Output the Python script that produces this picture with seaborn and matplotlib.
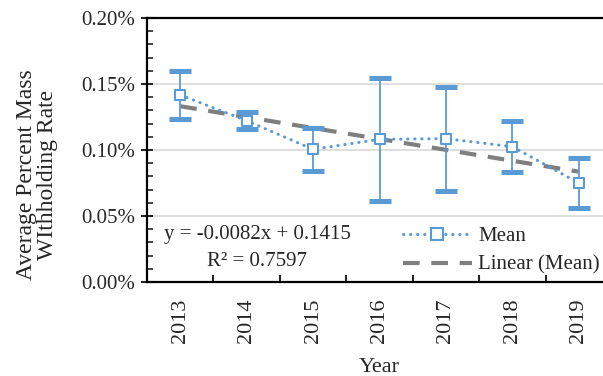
import numpy as np
import pandas as pd
import matplotlib
matplotlib.use("Agg")
import matplotlib.pyplot as plt
from matplotlib.lines import Line2D
from matplotlib.ticker import MultipleLocator, FuncFormatter, FixedLocator
import seaborn as sns

years = ["2013", "2014", "2015", "2016", "2017", "2018", "2019"]
mean_vals = [0.1417, 0.1222, 0.1005, 0.1081, 0.1086, 0.1025, 0.0750]
err_upper = [0.1600, 0.1288, 0.1169, 0.1545, 0.1480, 0.1217, 0.0942]
err_lower = [0.1237, 0.1157, 0.0841, 0.0616, 0.0692, 0.0836, 0.0560]
y_ticks = [0.00, 0.05, 0.10, 0.15, 0.20]
eq_text = "y = -0.0082x + 0.1415"
r2_text = "R² = 0.7597"

sns.set_theme(style="white")
plt.rcParams['font.family'] = ['Liberation Serif', 'DejaVu Serif']

blue = "#5B9BD5"
grey = "#7F7F7F"

df = pd.DataFrame({"pos": np.arange(len(years)), "year": years, "mean": mean_vals,
                   "lo": err_lower, "hi": err_upper})

fig = plt.figure(figsize=(6.03, 3.76), dpi=100)
ax = fig.add_axes([147/603, 94/376, 465/603, 264/376])

for y in y_ticks[1:-1]:
    ax.axhline(y, color="#D9D9D9", lw=1.2, zorder=0)

# error bars
yerr = np.array([df["mean"] - df["lo"], df["hi"] - df["mean"]])
ax.errorbar(df["pos"], df["mean"], yerr=yerr, fmt="none", ecolor=blue,
            elinewidth=1.3, capsize=8, capthick=3.6, zorder=3)

# mean line
sns.lineplot(data=df, x="pos", y="mean", ax=ax, color=blue, lw=2.2,
             linestyle=(0, (0.1, 2.2)), dash_capstyle="round", zorder=4)
sns.scatterplot(data=df, x="pos", y="mean", ax=ax, marker="s", s=60,
                facecolor="white", edgecolor=blue, linewidth=1.5, zorder=5)

# linear trend
sns.regplot(data=df, x="pos", y="mean", ax=ax, scatter=False, ci=None,
            line_kws=dict(color=grey, lw=3, linestyle=(0, (4, 2.8))), truncate=True)

ax.set_xlim(-0.5, len(years) - 0.5)
ax.set_ylim(0, 0.20)
ax.yaxis.set_major_locator(FixedLocator(y_ticks))
ax.yaxis.set_minor_locator(MultipleLocator(0.01))
ax.yaxis.set_major_formatter(FuncFormatter(lambda v, p: f"{v:.2f}%"))
ax.set_xticks(df["pos"])
ax.set_xticklabels(years, rotation=90)
ax.xaxis.set_minor_locator(FixedLocator(np.arange(0.5, len(years) - 1, 1.0)))

ax.tick_params(axis="y", which="major", direction="inout", length=9, width=1.5,
               labelsize=15, pad=4, left=True)
ax.tick_params(axis="y", which="minor", direction="in", length=4, width=1.2, left=True)
ax.tick_params(axis="x", which="major", length=0, labelsize=16, pad=12)
ax.tick_params(axis="x", which="minor", direction="in", length=5, width=1.5, bottom=True)

for s in ["left", "bottom", "top"]:
    ax.spines[s].set_visible(True)
    ax.spines[s].set_color("black")
    ax.spines[s].set_linewidth(1.6)
ax.spines["right"].set_visible(False)

ax.set_xlabel("Year", fontsize=16, labelpad=11)
ax.set_ylabel("Average Percent Mass\nWIthholding Rate", fontsize=17, linespacing=1.0)
ax.yaxis.set_label_coords(-0.191, 0.405)

ax.text((257 - 147) / 465, (282 - 234) / 264, eq_text, transform=ax.transAxes,
        ha="center", va="center", fontsize=15)
ax.text((257 - 147) / 465, (282 - 262) / 264, r2_text, transform=ax.transAxes,
        ha="center", va="center", fontsize=15)

handles = [Line2D([], [], color=blue, lw=2.2, linestyle=(0, (0.1, 2.2)),
                  dash_capstyle="round", marker="s", markersize=8,
                  markerfacecolor="white", markeredgecolor=blue, markeredgewidth=1.5),
           Line2D([], [], color=grey, lw=3, linestyle=(0, (4, 2.8)))]
ax.legend(handles, ["Mean", "Linear (Mean)"], loc="lower left",
          bbox_to_anchor=((401 - 147) / 465, (282 - 277) / 264), frameon=False,
          fontsize=15, handlelength=3.3, handletextpad=0.3, labelspacing=0.45,
          borderpad=0.1, borderaxespad=0)

fig.savefig("out.png", dpi=100)
